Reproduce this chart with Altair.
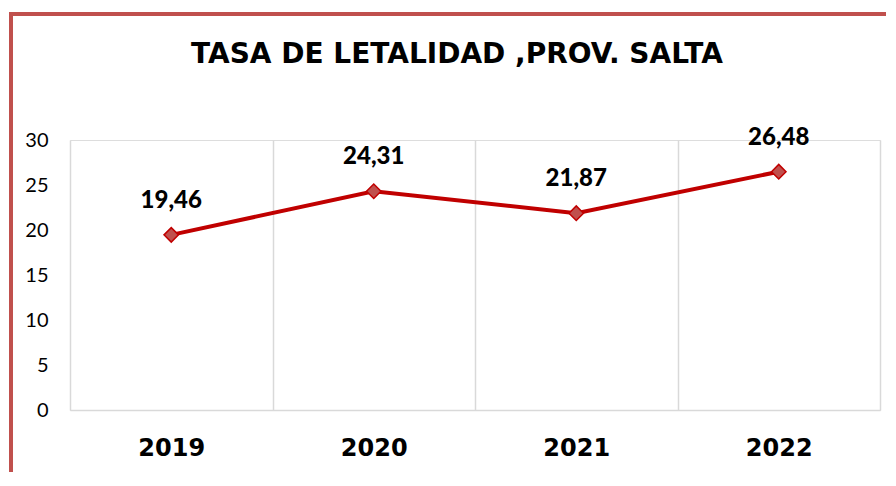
import altair as alt
import pandas as pd

years = ["2019", "2020", "2021", "2022"]
rates = [19.46, 24.31, 21.87, 26.48]
rate_labels = ["19,46", "24,31", "21,87", "26,48"]
title_text = "TASA DE LETALIDAD ,PROV. SALTA"
y_ticks = [0, 5, 10, 15, 20, 25, 30]

df = pd.DataFrame({"year": years, "rate": rates, "label": rate_labels})

W, H = 810, 270

x_enc = alt.X(
    "year:N",
    sort=years,
    scale=alt.Scale(type="band", paddingInner=0, paddingOuter=0),
    axis=alt.Axis(
        title=None, grid=True, tickBand="extent", gridColor="#d9d9d9", gridWidth=1.5,
        domain=True, domainColor="#d9d9d9", domainWidth=1.5, ticks=False, tickSize=0,
        labelFont="DejaVu Sans", labelFontWeight="bold", labelFontSize=24,
        labelColor="#000000", labelPadding=45, labelBaseline="alphabetic", labelAngle=0,
    ),
)
y_enc = alt.Y(
    "rate:Q",
    scale=alt.Scale(domain=[0, 30], nice=False, zero=True),
    axis=alt.Axis(
        title=None, values=y_ticks, grid=False, domain=False, ticks=False, tickSize=0,
        labelFont="Lato", labelFontSize=20, labelColor="#000000", labelPadding=22,
    ),
)

base = alt.Chart(df)

line = base.mark_line(color="#c00000", strokeWidth=4).encode(x=x_enc, y=y_enc)
points = base.mark_point(
    shape="diamond", size=210, filled=True, fill="#c0504d", stroke="#c00000",
    strokeWidth=1.5, opacity=1,
).encode(x=x_enc, y=y_enc)
texts = base.mark_text(
    font="Lato", fontWeight=900, fontSize=24, color="#000000",
    baseline="alphabetic", dy=-27,
).encode(x=x_enc, y=y_enc, text="label:N")

title = alt.Chart(pd.DataFrame({"t": [title_text]})).mark_text(
    font="DejaVu Sans", fontWeight="bold", fontSize=28, color="#000000",
    baseline="alphabetic", align="center",
).encode(x=alt.value(387), y=alt.value(-77), text="t:N")

border_left = alt.Chart(pd.DataFrame({"a": [0]})).mark_rule(
    color="#c0504d", strokeWidth=4
).encode(x=alt.value(-59), y=alt.value(-128), y2=alt.value(340))
border_top = alt.Chart(pd.DataFrame({"a": [0]})).mark_rule(
    color="#c0504d", strokeWidth=4
).encode(x=alt.value(-61), x2=alt.value(830), y=alt.value(-126))

chart = alt.layer(line, points, texts, title, border_left, border_top).properties(
    width=W, height=H,
    autosize=alt.AutoSizeParams(type="none"),
    padding={"left": 62, "top": 132, "right": 6, "bottom": 62},
).configure_view(stroke=None).configure(background="#ffffff")

chart.save("out.html", embed_options={"renderer": "svg", "actions": False})
